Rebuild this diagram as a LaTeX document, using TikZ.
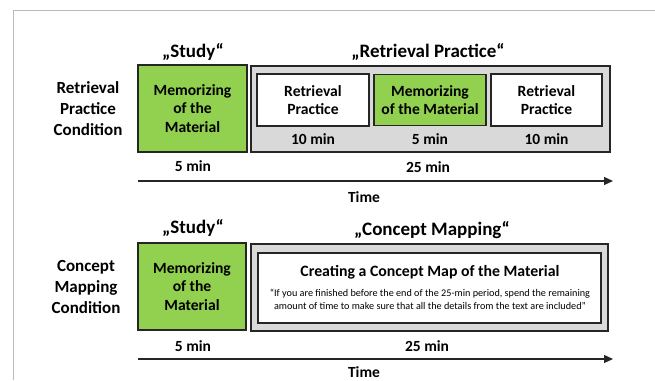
\documentclass[tikz,border=0pt]{standalone}
\usepackage{fontspec}
\setmainfont{Carlito}
\usetikzlibrary{arrows.meta}
\definecolor{boxgreen}{HTML}{92D050}
\definecolor{boxgray}{HTML}{D9D9D9}
\definecolor{framegray}{HTML}{BBBBBB}
\definecolor{edge}{HTML}{262626}
\tikzset{
  box/.style={draw=edge, line width=1.3pt, inner sep=0pt, align=center, font=\fontsize{15.6}{18.5}\selectfont\bfseries},
  greenbox/.style={box, fill=boxgreen},
  graybox/.style={box, fill=boxgray},
  whitebox/.style={box, fill=white},
  title/.style={font=\fontsize{19}{21}\selectfont\bfseries, inner sep=0pt},
  cond/.style={font=\fontsize{17}{21}\selectfont\bfseries, align=center, inner sep=0pt},
  dur/.style={font=\fontsize{15.5}{17}\selectfont\bfseries, inner sep=0pt},
  timearrow/.style={draw=edge, line width=1.3pt, -{Triangle[length=9pt,width=8pt]}},
}
\begin{document}
\begin{tikzpicture}[x=1pt,y=-1pt]
\useasboundingbox (0,0) rectangle (655,380);
% frame
\draw[framegray, line width=1pt] (13,380) -- (13,10.5) -- (655,10.5);

% ---------- top row ----------
\node[cond] (cond1) at (88,109) {Retrieval\\Practice\\Condition};
\node[title] (study1) at (193,52) {„Study“};
\node[title] (rp) at (428,52) {„Retrieval Practice“};
\node[greenbox, minimum width=109pt, minimum height=87pt] (mem1) at (192.5,108.5) {Memorizing\\of the\\Material};
\node[graybox, minimum width=359pt, minimum height=86pt] (gray1) at (430.5,109) {};
\node[whitebox, minimum width=112pt, minimum height=52pt] (ret1) at (313,100) {Retrieval\\Practice};
\node[greenbox, minimum width=112pt, minimum height=51pt] (mem2) at (430,100) {Memorizing\\of the Material};
\node[whitebox, minimum width=111pt, minimum height=52pt] (ret2) at (546.5,100) {Retrieval\\Practice};
\node[dur] (d1) at (313,139) {10 min};
\node[dur] (d2) at (430,139) {5 min};
\node[dur] (d3) at (546.5,139) {10 min};
\node[dur] (d4) at (193,166) {5 min};
\node[dur] (d5) at (428,167) {25 min};
\coordinate (a1s) at (138,181);
\coordinate (a1e) at (613,181);
\draw[timearrow] (a1s) -- (a1e);
\node[dur] (time1) at (364,197) {Time};

% ---------- bottom row ----------
\node[cond] (cond2) at (86,287) {Concept\\Mapping\\Condition};
\node[title] (study2) at (193,228) {„Study“};
\node[title] (cm) at (432,230) {„Concept Mapping“};
\node[greenbox, minimum width=108pt, minimum height=87pt] (mem3) at (192,286.5) {Memorizing\\of the\\Material};
\node[graybox, minimum width=357pt, minimum height=87pt] (gray2) at (429.5,287.5) {};
\node[whitebox, minimum width=343pt, minimum height=70pt] (cmap) at (429.5,288) {};
\node[font=\fontsize{15.8}{18}\selectfont\bfseries, inner sep=0pt] (cmt) at (430,272) {Creating a Concept Map of the Material};
\node[font=\fontsize{10.2}{13}\selectfont, align=center, inner sep=0pt] (quote) at (430,299.5) {“If you are finished before the end of the 25-min period, spend the remaining\\amount of time to make sure that all the details from the text are included”};
\node[dur] (d6) at (193,346) {5 min};
\node[dur] (d7) at (427,346) {25 min};
\coordinate (a2s) at (138,359);
\coordinate (a2e) at (613,359);
\draw[timearrow] (a2s) -- (a2e);
\node[dur] (time2) at (364,372) {Time};
\end{tikzpicture}
\end{document}
